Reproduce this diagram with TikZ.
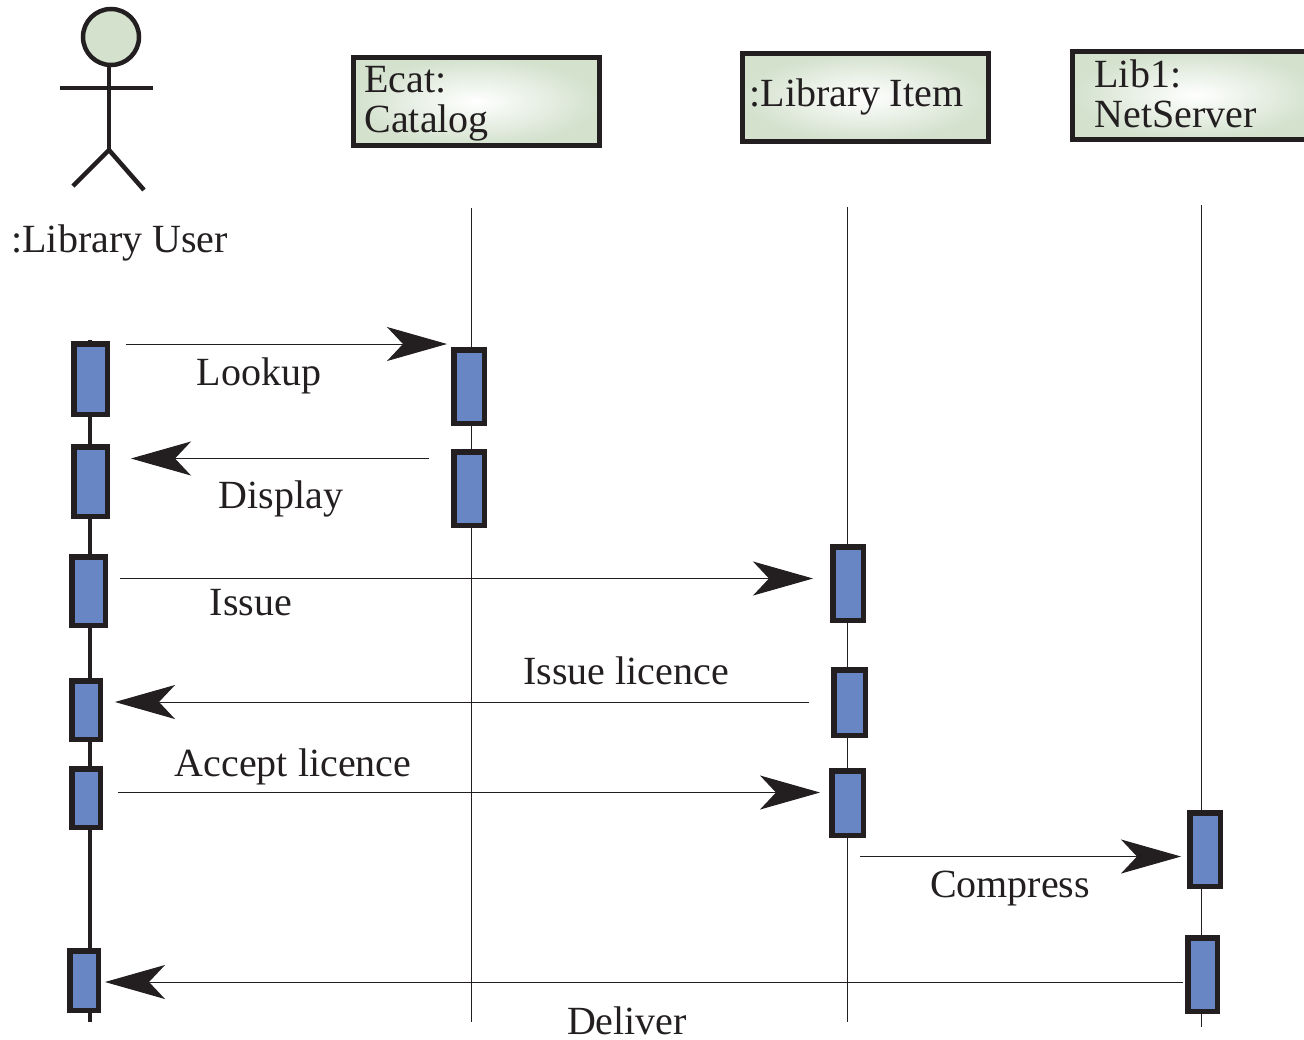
\documentclass[tikz,border=0pt]{standalone}
\usepackage{fontspec}
\setmainfont{Liberation Serif}
\usetikzlibrary{arrows.meta}
\definecolor{inkblack}{HTML}{231F20}
\definecolor{objgreen}{HTML}{D3E1CD}
\definecolor{barblue}{HTML}{6885C4}
\tikzset{
  every node/.style={text=inkblack, font=\fontsize{20}{20}\selectfont},
  objbox/.style={draw=inkblack, line width=2.5pt, rectangle, inner color=white, outer color=objgreen,
    align=left, inner ysep=0pt, anchor=north west, minimum height=44pt},
  actbox/.style={draw=inkblack, line width=2.75pt, fill=barblue, rectangle, inner sep=0pt},
  stickline/.style={draw=inkblack, line width=2.25pt},
  lifeline/.style={draw=inkblack, line width=.5pt},
  msgline/.style={draw=inkblack, line width=.5pt,
    -{Stealth[length=30pt, width=17pt, inset=8pt, fill=inkblack]}},
  msglabel/.style={anchor=base, inner sep=0pt},
}
% one activation bar: name, centre x, centre y, outer width, outer height
\newcommand\actbar[5]{
  \node[actbox, minimum width={(#4-4.5)*.5pt}, minimum height={(#5-4.5)*.5pt}] (#1) at (#2, #3) {};
}
\begin{document}
\begin{tikzpicture}[x=.5pt, y=-.5pt]
    \useasboundingbox (0, 0) rectangle (1304, 1039);
    % actor
    \node[circle, draw=inkblack, fill=objgreen, line width=2.25pt, inner sep=0pt, minimum size=28pt] (userhead) at (111, 37) {};
    \coordinate (neck) at (109, 67);
    \coordinate (hip) at (109, 150);
    \coordinate (armL) at (60, 88);
    \coordinate (armR) at (153, 88);
    \coordinate (footL) at (73, 186);
    \coordinate (footR) at (144, 190);
    \draw[stickline] (neck) -- (hip) ;
    \draw[stickline] (armL) -- (armR) ;
    \draw[stickline] (footL) -- (hip) -- (footR) ;
    \node[anchor=base west, inner sep=0pt] (userlabel) at (11, 252) {:Library User};
    % objects
    \node[objbox, text width=111.5pt, inner xsep=5.75pt] (catalog) at (350.5, 55) {\rule{0pt}{15pt}Ecat:\\Catalog};
    \node[objbox, text width=115.5pt, inner xsep=3.75pt] (item) at (739.5, 50.5) {\raisebox{4pt}{:Library\kern-2pt{} Item}};
    \node[objbox, text width=100.5pt, inner xsep=11.25pt] (netserver) at (1069.5, 48.5) {Lib1:\\NetServer\rule[-1pt]{0pt}{0pt}};
    % lifelines
    \coordinate (userTop) at (90, 340);
    \coordinate (userEnd) at (90, 1022);
    \coordinate (catTop) at (471.5, 208);
    \coordinate (catEnd) at (471.5, 1022);
    \coordinate (itemTop) at (847.5, 207);
    \coordinate (itemEnd) at (847.5, 1022);
    \coordinate (netTop) at (1201.5, 205);
    \coordinate (netEnd) at (1201.5, 1027);
    \draw[stickline] (userTop) -- (userEnd) ;
    \draw[lifeline] (catTop) -- (catEnd) ;
    \draw[lifeline] (itemTop) -- (itemEnd) ;
    \draw[lifeline] (netTop) -- (netEnd) ;
    % activation bars
    \actbar{userA}{90.5}{379}{38}{75}
    \actbar{userB}{90.5}{481.5}{38}{74}
    \actbar{userC}{88.5}{591}{38}{73}
    \actbar{userD}{86}{710}{33}{63}
    \actbar{userE}{86}{798}{33}{63}
    \actbar{userF}{84}{980.5}{33}{64}
    \actbar{catA}{469}{386.5}{35}{78}
    \actbar{catB}{469}{488.5}{35}{78}
    \actbar{itemA}{848}{583.5}{35}{78}
    \actbar{itemB}{849.5}{702.5}{36}{70}
    \actbar{itemC}{847.5}{803}{36}{69}
    \actbar{netA}{1205}{849.5}{35}{78}
    \actbar{netB}{1202.5}{974.5}{34}{78}
    % messages
    \coordinate (lookupS) at (126, 344);
    \coordinate (lookupE) at (447, 344);
    \coordinate (displayS) at (429, 458.5);
    \coordinate (displayE) at (131, 458.5);
    \coordinate (issueS) at (120, 578.5);
    \coordinate (issueE) at (813, 578.5);
    \coordinate (licenceS) at (809, 702);
    \coordinate (licenceE) at (115, 702);
    \coordinate (acceptS) at (118, 792.5);
    \coordinate (acceptE) at (820, 792.5);
    \coordinate (compressS) at (860, 856.5);
    \coordinate (compressE) at (1181, 856.5);
    \coordinate (deliverS) at (1183, 982);
    \coordinate (deliverE) at (105, 982);
    \draw[msgline] (lookupS) -- (lookupE) ;
    \draw[msgline] (displayS) -- (displayE) ;
    \draw[msgline] (issueS) -- (issueE) ;
    \draw[msgline] (licenceS) -- (licenceE) ;
    \draw[msgline] (acceptS) -- (acceptE) ;
    \draw[msgline] (compressS) -- (compressE) ;
    \draw[msgline] (deliverS) -- (deliverE) ;
    \node[msglabel] (lookupL) at (259, 385) {Lookup};
    \node[msglabel] (displayL) at (281, 508) {Display};
    \node[msglabel] (issueL) at (251, 615) {Issue};
    \node[msglabel] (licenceL) at (626, 684) {Issue licence};
    \node[msglabel] (acceptL) at (293, 776) {Accept licence};
    \node[msglabel] (compressL) at (1010, 897) {Compress};
    \node[msglabel] (deliverL) at (627, 1034) {Deliver};
\end{tikzpicture}
\end{document}
